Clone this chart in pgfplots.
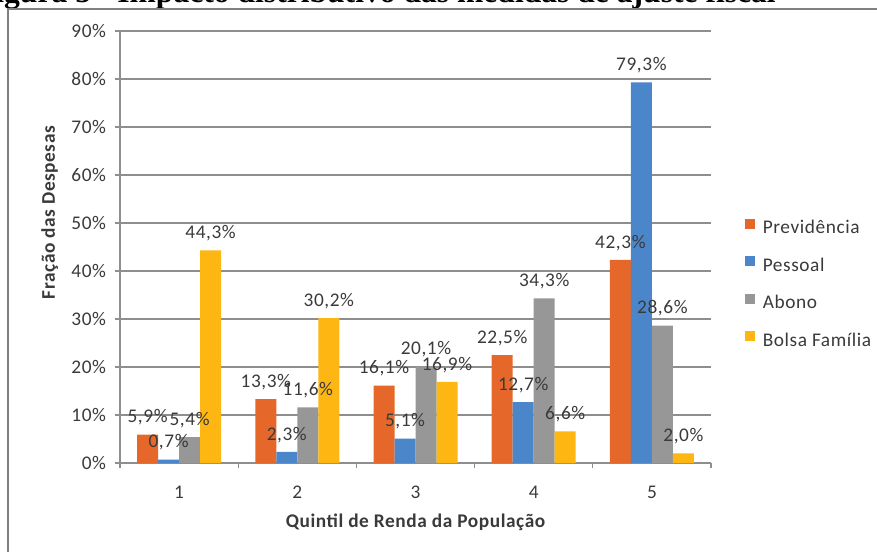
\documentclass[border=0pt]{standalone}
\usepackage{pgfplots}
\pgfplotsset{compat=1.18}
\usepackage{fontspec}
\setmainfont[LetterSpace=3]{Carlito}
\newfontfamily\titlefont{Liberation Serif}

\definecolor{prev}{HTML}{E5682A}
\definecolor{pess}{HTML}{4A86C9}
\definecolor{abon}{HTML}{979797}
\definecolor{bolsa}{HTML}{FDB612}
\definecolor{txt}{HTML}{3A3A3A}
\definecolor{gridc}{HTML}{8E8E8E}

\begin{document}
\begin{tikzpicture}
% caption of the page, cut by the top edge
\node[anchor=base east, inner sep=0pt, font=\titlefont\bfseries\fontsize{23.7}{28}\selectfont]
  at (582pt,411.5pt) {Figura 5 - Impacto distributivo das medidas de ajuste fiscal};
% frame of the chart
\draw[line width=1.1pt, draw=gray] (6pt,-20pt) -- (6pt,406.5pt) -- (700pt,406.5pt);

\begin{axis}[
    at={(90pt,66pt)}, anchor=south west,
    scale only axis,
    width=443.25pt, height=324pt,
    ybar=0pt, bar width=15.75pt,
    xmin=0.5, xmax=5.5, ymin=0, ymax=90,
    enlargelimits=false,
    axis lines*=left,
    axis line style={draw=gridc, line width=0.8pt, -},
    ymajorgrids,
    grid style={draw=gridc, line width=0.8pt},
    xtick={1,2,3,4,5},
    xticklabels={1,2,3,4,5},
    minor xtick={0.5,1.5,...,5.5},
    major x tick style={draw=none},
    minor x tick style={draw=gridc, line width=0.8pt},
    minor tick length=4pt,
    ytick={0,10,...,90},
    yticklabels={0\%,10\%,20\%,30\%,40\%,50\%,60\%,70\%,80\%,90\%},
    major y tick style={draw=gridc, line width=0.8pt},
    major tick length=4pt,
    tick align=outside,
    tick label style={font=\fontsize{14.5}{17}\selectfont, text=txt},
    yticklabel style={xshift=-3pt},
    xticklabel style={yshift=-9.5pt},
    /pgf/number format/assume math mode=true,
    xlabel={Quintil de Renda da População},
    ylabel={Fração das Despesas},
    label style={font=\bfseries\fontsize{14.5}{17}\selectfont, text=txt},
    xlabel style={at={(axis description cs:0.5,-0.1366)}, anchor=center},
    ylabel style={at={(axis description cs:-0.119,0.58)}, anchor=center},
    nodes near coords={\pgfmathprintnumber[fixed,fixed zerofill,precision=1,use comma]{\pgfplotspointmeta}\%},
    nodes near coords style={font=\fontsize{14.5}{17}\selectfont, text=txt, anchor=south, yshift=3.5pt},
    legend style={at={(1.05,0.414)}, anchor=west, draw=none, fill=none,
        font=\fontsize{14.5}{17}\selectfont, text=txt, row sep=12.5pt,
        /tikz/every odd column/.append style={column sep=4pt}},
    legend cell align=left,
    legend image code/.code={\fill[#1] (0pt,-0.5pt) rectangle (7.5pt,7pt);},
]
\addplot[fill=prev, draw=none] coordinates {(1,5.9) (2,13.3) (3,16.1) (4,22.5) (5,42.3)};
\addlegendentry{Previdência}
\addplot[fill=pess, draw=none] coordinates {(1,0.7) (2,2.3) (3,5.1) (4,12.7) (5,79.3)};
\addlegendentry{Pessoal}
\addplot[fill=abon, draw=none] coordinates {(1,5.4) (2,11.6) (3,20.1) (4,34.3) (5,28.6)};
\addlegendentry{Abono}
\addplot[fill=bolsa, draw=none] coordinates {(1,44.3) (2,30.2) (3,16.9) (4,6.6) (5,2.0)};
\addlegendentry{Bolsa Família}
\end{axis}

\pgfresetboundingbox
\useasboundingbox (0,0) rectangle (657.75pt,413.25pt);
\end{tikzpicture}
\end{document}
